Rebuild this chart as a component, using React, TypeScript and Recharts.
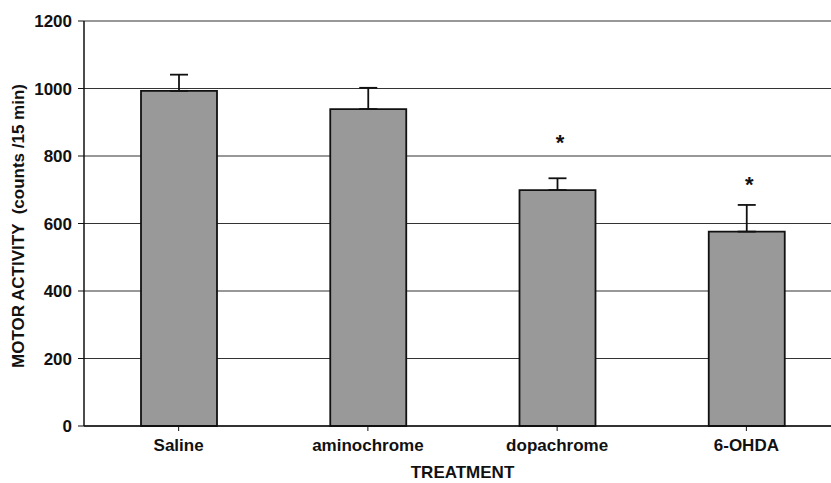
import React from "react";
import {
  ComposedChart,
  Bar,
  ErrorBar,
  Scatter,
  XAxis,
  YAxis,
  CartesianGrid,
  Label,
} from "recharts";

const categories = ["Saline", "aminochrome", "dopachrome", "6-OHDA"];
const meanActivity = [993, 939, 699, 576];
const errorUp = [48, 63, 35, 79];
const starLevel: (number | null)[] = [null, null, 856, 731];
const yTicks = [0, 200, 400, 600, 800, 1000, 1200];

const data = categories.map((c, i) => ({
  name: c,
  value: meanActivity[i],
  err: [0, errorUp[i]],
  star: starLevel[i],
}));

const FONT = "'Liberation Sans', Arial, sans-serif";

const Star = (props: any) => {
  const { cx, cy } = props;
  if (cx == null || cy == null || props.payload?.star == null) return null;
  return (
    <text
      x={cx + 3}
      y={cy + 12.5}
      textAnchor="middle"
      fontFamily={FONT}
      fontWeight="bold"
      fontSize={22}
      fill="#111"
    >
      *
    </text>
  );
};

const YLabel = (props: any) => {
  const x = 23.5;
  const y = 226;
  return (
    <text
      x={x}
      y={y}
      transform={`rotate(-90, ${x}, ${y})`}
      textAnchor="middle"
      fontFamily={FONT}
      fontWeight="bold"
      fontSize={17}
      fill="#111"
      style={{ whiteSpace: "pre" }}
    >
      {"MOTOR ACTIVITY  (counts /15 min)"}
    </text>
  );
};

export default function App() {
  return (
    <div
      style={{
        position: "absolute",
        left: 0,
        top: 0,
        width: 831,
        height: 483,
        overflow: "hidden",
        background: "#fff",
      }}
    >
      <ComposedChart
        width={850}
        height={483}
        data={data}
        margin={{ top: 21, right: 9, bottom: 0, left: 0 }}
      >
        <CartesianGrid
          horizontal={true}
          vertical={false}
          stroke="#333"
          strokeWidth={1.2}
        />
        <XAxis
          dataKey="name"
          height={57}
          axisLine={{ stroke: "#111", strokeWidth: 1.5 }}
          tickLine={{ stroke: "#111", strokeWidth: 1 }}
          tickSize={5}
          tickMargin={8}
          tick={{ fontFamily: FONT, fontWeight: "bold", fontSize: 17, fill: "#111" }}
          interval={0}
        >
          <Label
            value="TREATMENT"
            position="insideBottom"
            offset={5}
            style={{ fontFamily: FONT, fontWeight: "bold", fontSize: 17, fill: "#111" }}
          />
        </XAxis>
        <YAxis
          width={84}
          domain={[0, 1200]}
          ticks={yTicks}
          interval={0}
          axisLine={{ stroke: "#111", strokeWidth: 1.5 }}
          tickLine={{ stroke: "#111", strokeWidth: 1 }}
          tickSize={6}
          tickMargin={6}
          tick={{ fontFamily: FONT, fontWeight: "bold", fontSize: 17, fill: "#111" }}
          label={<YLabel />}
        />
        <Bar
          dataKey="value"
          fill="#999999"
          stroke="#111"
          strokeWidth={1.8}
          barSize={76}
          isAnimationActive={false}
        >
          <ErrorBar
            dataKey="err"
            width={9}
            stroke="#111"
            strokeWidth={1.8}
            direction="y"
          />
        </Bar>
        <Scatter dataKey="star" shape={<Star />} isAnimationActive={false} />
      </ComposedChart>
    </div>
  );
}
